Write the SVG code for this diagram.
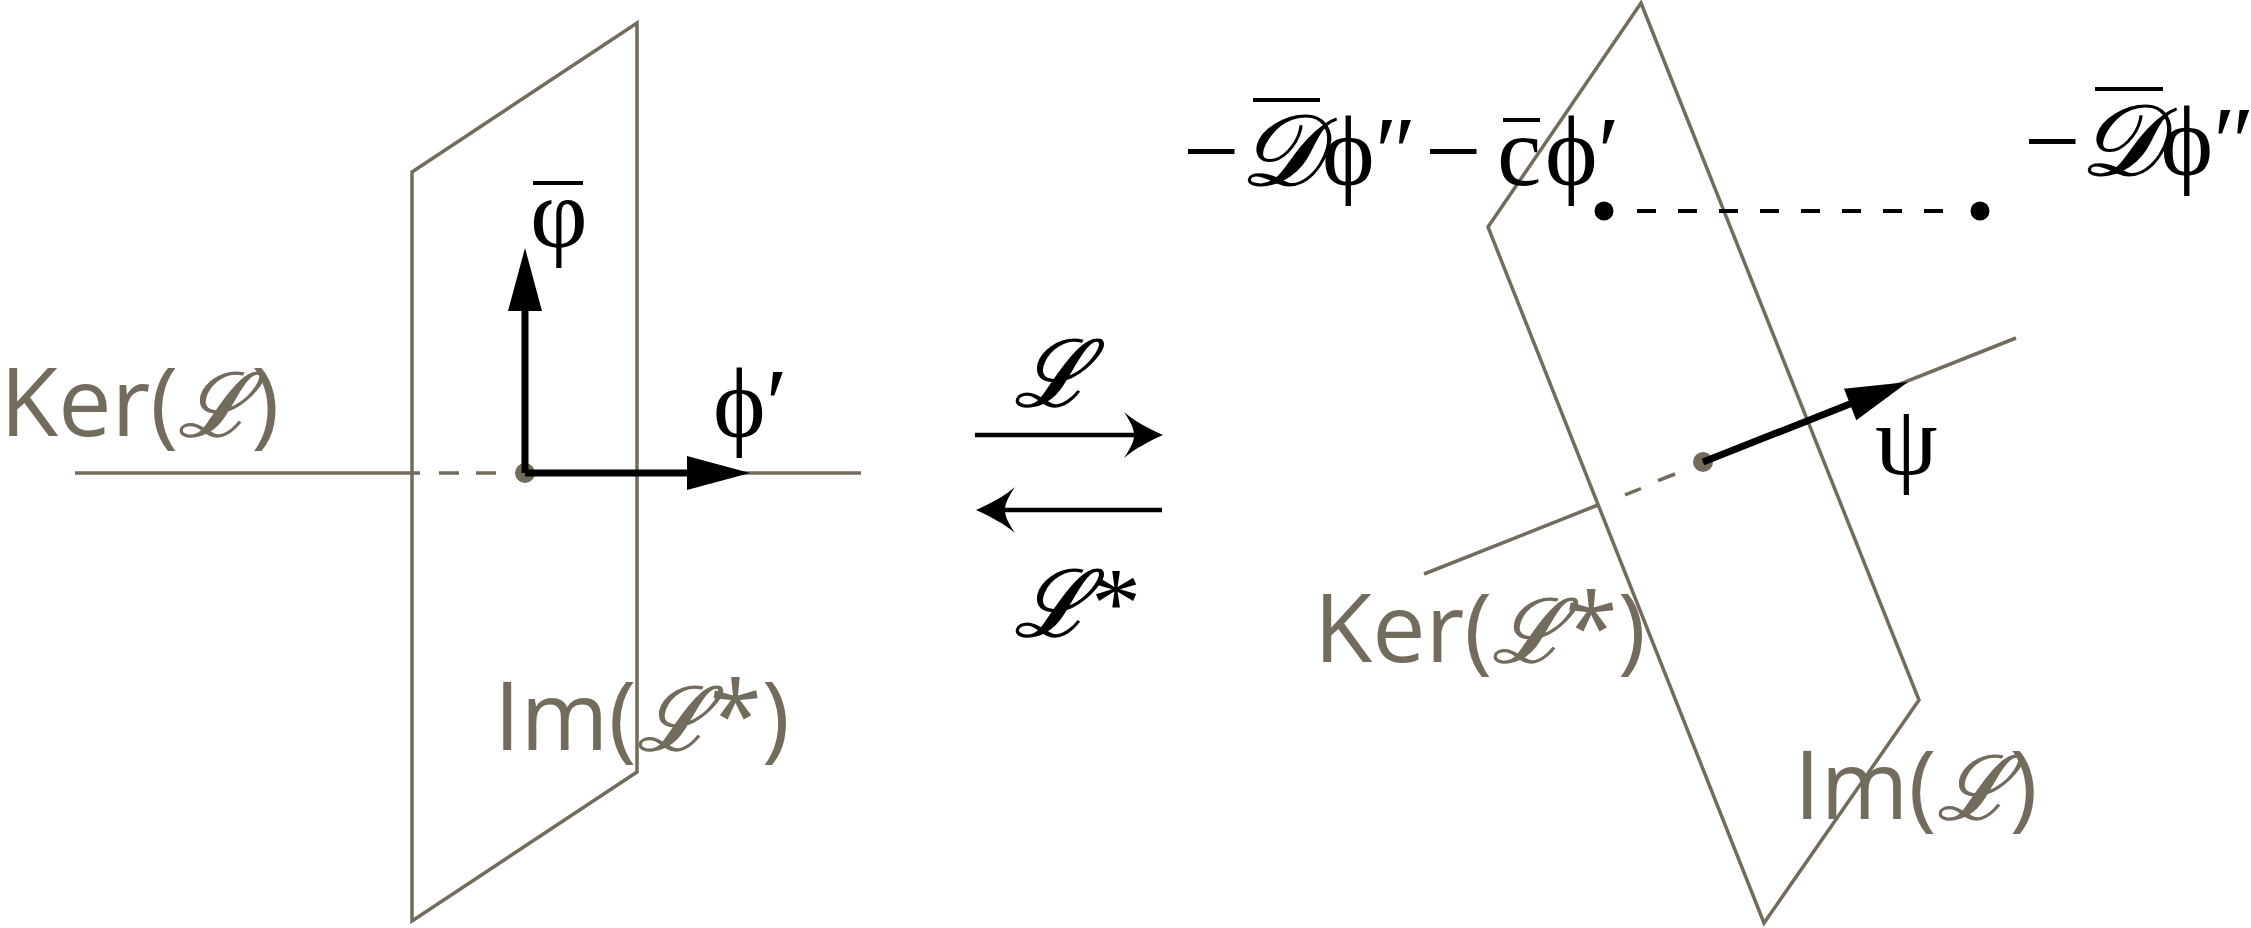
<svg xmlns="http://www.w3.org/2000/svg" width="2251" height="928" viewBox="0 0 2251 928">
<style>
.g{stroke:#736c5c;stroke-width:3.5;fill:none}
.lbl{font-family:"Open Sans","Noto Sans",sans-serif;font-size:95px;fill:#736c5c}
.scr{font-family:"DejaVu Serif",serif;font-style:italic;font-size:88px;stroke:#736c5c;stroke-width:1.6}
.scrk{font-family:"DejaVu Serif",serif;font-style:italic;stroke:#000;stroke-width:1.6}
.m{font-family:"Liberation Serif",serif;font-size:100px;fill:#000}
.ar{stroke:#000;stroke-width:7;fill:none}
.ar2{stroke:#000;stroke-width:4.5;fill:none}
.bar{stroke:#000;stroke-width:4}
</style>
<rect width="2251" height="928" fill="#fff"/>
<g id="left-plane">
<polygon class="g" points="412,172 637,23 637,772 412,921"/>
</g>
<g id="right-plane">
<polygon class="g" points="1641,3 1488,227 1764,923 1919,700"/>
</g>
<g id="connectors">
<line class="g" x1="75" y1="473" x2="420" y2="473"/>
<line class="g" x1="439" y1="473" x2="459" y2="473"/>
<line class="g" x1="476" y1="473" x2="496" y2="473"/>
<line class="g" x1="525" y1="473" x2="861" y2="473"/>
<circle cx="525" cy="473" r="10" fill="#736c5c"/>
<line class="ar" x1="525" y1="473" x2="525" y2="305"/>
<polygon points="525,248 508,311 542,311"/>
<line class="ar" x1="525" y1="473" x2="692" y2="473"/>
<polygon points="750,473 687,456 687,490"/>
<line class="ar2" x1="975" y1="435" x2="1150" y2="435"/>
<path d="M1163,435 C1150,441 1134,449 1124,458 C1130,449 1134,442 1134,435 C1134,428 1130,421 1124,412 C1134,421 1150,429 1163,435 Z"/>
<line class="ar2" x1="990" y1="510" x2="1162" y2="510"/>
<path d="M976,510 C989,504 1005,496 1015,487 C1009,496 1005,503 1005,510 C1005,517 1009,524 1015,533 C1005,524 989,516 976,510 Z"/>
<line class="g" x1="1424" y1="574" x2="1598" y2="505"/>
<line class="g" x1="1625" y1="494.9" x2="1641" y2="488.5"/>
<line class="g" x1="1658" y1="480.7" x2="1675" y2="474"/>
<line class="g" x1="1703" y1="462" x2="2016" y2="338"/>
<circle cx="1703" cy="462" r="10" fill="#736c5c"/>
<line class="ar" x1="1703" y1="462" x2="1855" y2="402"/>
<polygon points="1908,382 1844,388.7 1856.3,420.3"/>
<line stroke="#000" stroke-width="4" stroke-dasharray="19 22" x1="1637" y1="211" x2="1950" y2="211"/>
<circle cx="1604" cy="211" r="9.5"/>
<circle cx="1980" cy="211" r="9.5"/>
</g>
<g id="label-ker-l">
<text class="lbl" x="0" y="436">Ker(<tspan class="scr">ℒ</tspan>)</text>
</g>
<g id="label-im-lstar">
<text class="lbl" x="494" y="750">Im(<tspan class="scr">ℒ</tspan>*)</text>
</g>
<g id="label-ker-lstar">
<text class="lbl" x="1314" y="662">Ker(<tspan class="scr">ℒ</tspan>*)</text>
</g>
<g id="label-im-l">
<text class="lbl" x="1794" y="819">Im(<tspan class="scr">ℒ</tspan>)</text>
</g>
<g id="label-phibar">
<line class="bar" x1="533" y1="183" x2="583" y2="183"/>
<text class="m" x="530" y="247">φ</text>
</g>
<g id="label-phiprime">
<text class="m" x="713" y="437">ϕ′</text>
</g>
<g id="label-psi">
<text class="m" x="1875" y="474">ψ</text>
</g>
<g id="label-L">
<text class="m" x="1014" y="406"><tspan class="scrk" font-size="92">ℒ</tspan></text>
</g>
<g id="label-Lstar">
<text class="m" x="1014" y="636"><tspan class="scrk" font-size="92">ℒ</tspan>*</text>
</g>
<g id="label-expr1">
<line class="bar" x1="1253" y1="100" x2="1320" y2="100"/>
<line class="bar" x1="1503" y1="120" x2="1540" y2="120"/>
<text class="m" y="185"><tspan x="1183">−</tspan><tspan class="scrk" x="1240">𝒟</tspan><tspan x="1322">ϕ″</tspan><tspan x="1425">−</tspan><tspan x="1497">c</tspan><tspan x="1545">ϕ′</tspan></text>
</g>
<g id="label-expr2">
<line class="bar" x1="2095" y1="89" x2="2163" y2="89"/>
<text class="m" x="2024" y="175">−<tspan class="scrk">𝒟</tspan>ϕ″</text>
</g>
</svg>
